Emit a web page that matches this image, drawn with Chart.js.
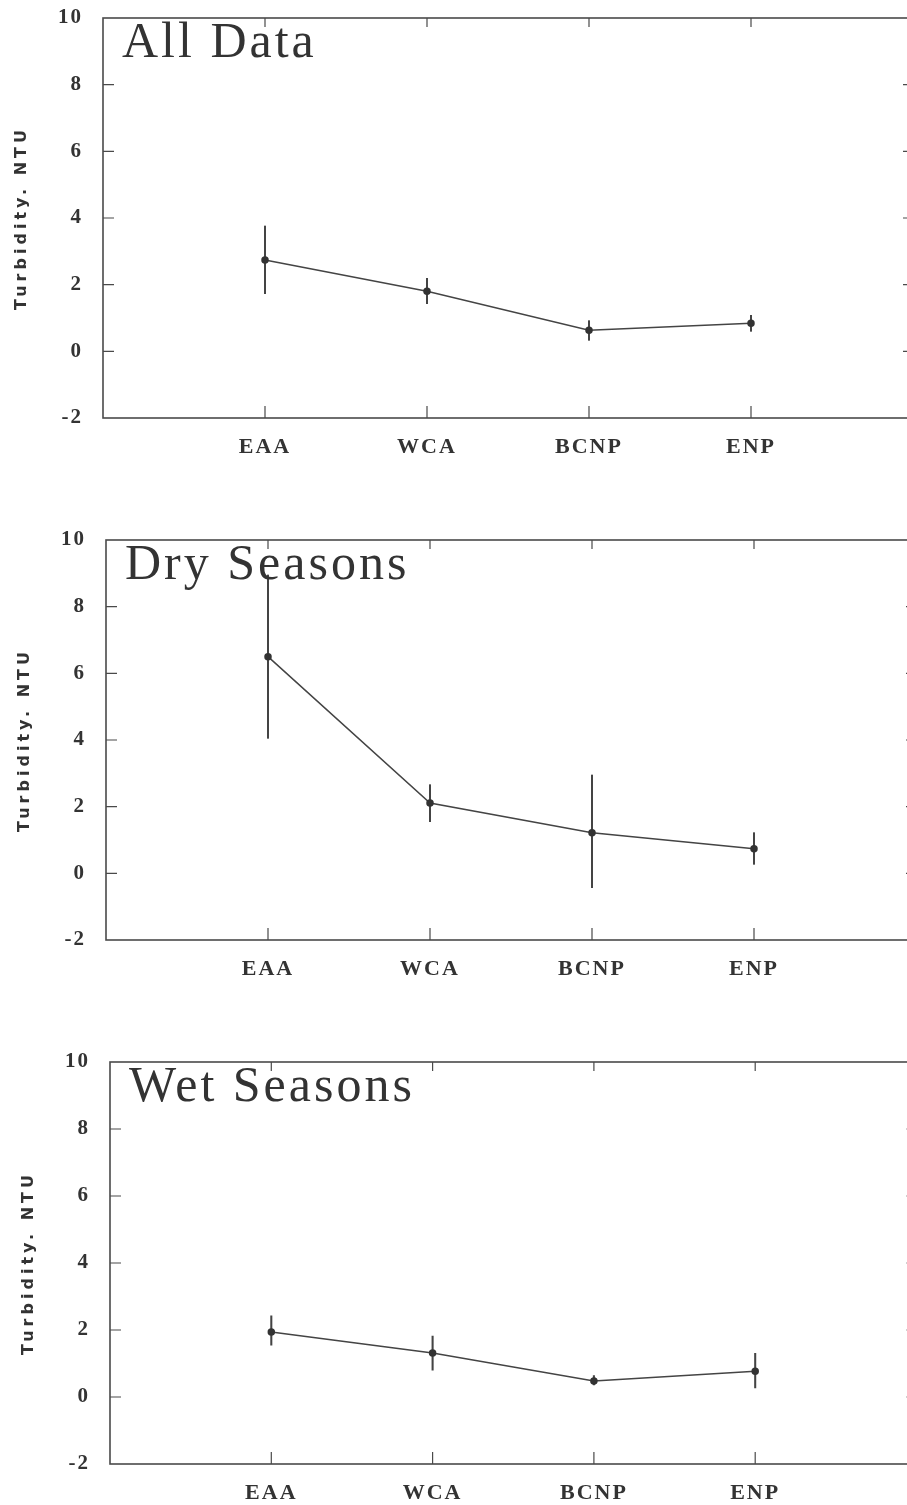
<!DOCTYPE html>
<html lang="en">
<head>
<meta charset="UTF-8">
<title>Turbidity by region</title>
<script src="https://cdn.jsdelivr.net/npm/chart.js"></script>
<style>
  html, body { margin: 0; padding: 0; background: #fff; overflow: hidden; width: 907px; height: 1505px; }
  canvas { position: absolute; left: 0; }
</style>
</head>
<body>
<canvas id="allChart" width="922" height="470" style="top:0px"></canvas>
<canvas id="dryChart" width="922" height="470" style="top:522px"></canvas>
<canvas id="wetChart" width="922" height="472" style="top:1044px"></canvas>

<script>
// categories and tick labels
const regions = ['EAA', 'WCA', 'BCNP', 'ENP'];
const yTitle = 'Turbidity. NTU';

// All data: mean and error bar ends
const allMean = [2.74, 1.80, 0.63, 0.84];
const allLow  = [1.73, 1.43, 0.33, 0.60];
const allHigh = [3.76, 2.19, 0.92, 1.08];

// Dry seasons
const dryMean = [6.50, 2.11, 1.22, 0.74];
const dryLow  = [4.05, 1.55, -0.43, 0.27];
const dryHigh = [8.95, 2.66, 2.95, 1.22];

// Wet seasons
const wetMean = [1.94, 1.31, 0.48, 0.77];
const wetLow  = [1.55, 0.80, 0.36, 0.27];
const wetHigh = [2.42, 1.82, 0.64, 1.30];

// box around the plot, inward ticks, panel label and y title
const framePlugin = {
    id: 'frame',
    beforeDraw(chart) {
        chart.ctx.letterSpacing = '2px';
    },
    afterDraw(chart, args, opts) {
        const { ctx, chartArea: a, scales: { x, y } } = chart;
        ctx.save();
        ctx.strokeStyle = '#4a4a4a';
        ctx.lineWidth = 1.6;
        ctx.strokeRect(a.left, a.top, a.right - a.left, a.bottom - a.top);

        ctx.lineWidth = 1.2;
        ctx.beginPath();
        y.ticks.forEach(t => {
            if (t.value <= y.min || t.value >= y.max) return;
            const py = y.getPixelForValue(t.value);
            ctx.moveTo(a.left, py); ctx.lineTo(a.left + 11, py);
            ctx.moveTo(a.right, py); ctx.lineTo(a.right - 10, py);
        });
        x.ticks.forEach(t => {
            if (t.value <= x.min || t.value >= x.max) return;
            const px = x.getPixelForValue(t.value);
            ctx.moveTo(px, a.bottom); ctx.lineTo(px, a.bottom - 12);
            ctx.moveTo(px, a.top); ctx.lineTo(px, a.top + 9);
        });
        ctx.stroke();

        ctx.fillStyle = '#333';
        ctx.font = '50px "Liberation Serif"';
        ctx.letterSpacing = '3px';
        ctx.textAlign = 'left';
        ctx.textBaseline = 'alphabetic';
        ctx.fillText(opts.label, a.left + 19, a.top + 39);

        ctx.translate(a.left - 81, (a.top + a.bottom) / 2);
        ctx.rotate(-Math.PI / 2);
        ctx.font = 'bold 16px "DejaVu Sans"';
        ctx.letterSpacing = '4px';
        ctx.textAlign = 'center';
        ctx.textBaseline = 'middle';
        ctx.fillText(yTitle, 0, 0);
        ctx.restore();
    }
};

function makePanel(id, label, mean, low, high, leftWidth) {
    const canvas = document.getElementById(id);
    const rightPad = canvas.width - (leftWidth + 810);
    return new Chart(canvas, {
        type: 'line',
        data: {
            datasets: [
                {
                    type: 'line',
                    data: mean.map((v, i) => ({ x: i + 1, y: v })),
                    borderColor: '#444',
                    borderWidth: 1.5,
                    pointRadius: 3,
                    pointBackgroundColor: '#333',
                    pointBorderColor: '#333',
                    tension: 0,
                    order: 1
                },
                {
                    type: 'bar',
                    data: low.map((v, i) => ({ x: i + 1, y: [v, high[i]] })),
                    backgroundColor: '#444',
                    barThickness: 1.4,
                    order: 2
                }
            ]
        },
        options: {
            responsive: false,
            animation: false,
            devicePixelRatio: 1,
            layout: { padding: { top: 18, right: rightPad, left: 0, bottom: 0 } },
            plugins: {
                legend: { display: false },
                tooltip: { enabled: false },
                frame: { label: label }
            },
            scales: {
                x: {
                    type: 'linear',
                    min: 0,
                    max: 5,
                    offset: false,
                    afterFit: s => {
                        s.height = 52;
                        s.paddingLeft = 0;
                        s.paddingRight = 0;
                    },
                    grid: { display: false, drawTicks: false },
                    border: { display: false },
                    ticks: {
                        stepSize: 1,
                        autoSkip: false,
                        maxRotation: 0,
                        padding: 16,
                        color: '#333',
                        font: { family: '"Liberation Serif"', size: 22, weight: 'bold' },
                        callback: v => regions[v - 1] || ''
                    }
                },
                y: {
                    min: -2,
                    max: 10,
                    afterFit: s => {
                        s.width = leftWidth;
                        s.paddingTop = 0;
                        s.paddingBottom = 0;
                    },
                    grid: { display: false, drawTicks: false },
                    border: { display: false },
                    ticks: {
                        stepSize: 2,
                        padding: 20,
                        color: '#333',
                        font: { family: '"Liberation Serif"', size: 21, weight: 'bold' }
                    }
                }
            }
        },
        plugins: [framePlugin]
    });
}

makePanel('allChart', 'All Data', allMean, allLow, allHigh, 103);
makePanel('dryChart', 'Dry Seasons', dryMean, dryLow, dryHigh, 106);
makePanel('wetChart', 'Wet Seasons', wetMean, wetLow, wetHigh, 110);
</script>
</body>
</html>
